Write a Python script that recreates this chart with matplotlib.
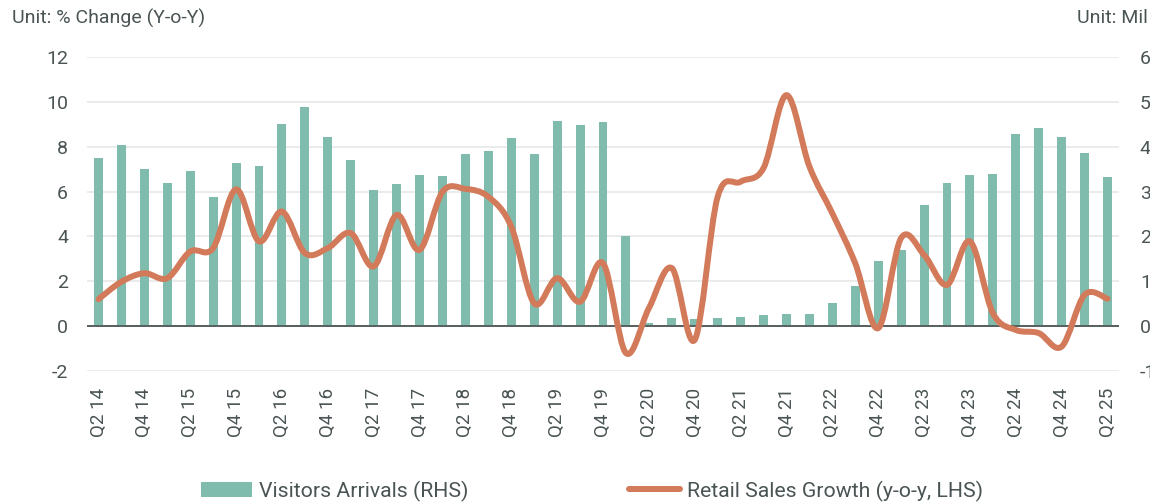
import numpy as np
import matplotlib
matplotlib.use('Agg')
from matplotlib import pyplot as plt
from matplotlib.path import Path
from matplotlib.patches import PathPatch, Patch
from matplotlib.lines import Line2D

plt.rcParams['font.family'] = ['Roboto', 'DejaVu Sans']
plt.rcParams['axes.unicode_minus'] = False

quarters = []
for yr in range(14, 26):
    for q in range(1, 5):
        quarters.append('Q%d %d' % (q, yr))
quarters = quarters[1:quarters.index('Q2 25') + 1]

# visitor arrivals, millions (RHS)
visitors = [3.75, 4.03, 3.50, 3.19, 3.45, 2.88, 3.64, 3.58, 4.50, 4.88,
            4.22, 3.70, 3.03, 3.17, 3.38, 3.35, 3.84, 3.90, 4.19, 3.83,
            4.57, 4.48, 4.54, 2.02, 0.08, 0.18, 0.16, 0.18, 0.20, 0.25,
            0.27, 0.27, 0.52, 0.90, 1.46, 1.70, 2.70, 3.20, 3.37, 3.39,
            4.28, 4.42, 4.22, 3.85, 3.32]

# retail sales growth, % y-o-y (LHS)
retail = [1.2, 1.98, 2.36, 2.14, 3.33, 3.48, 6.1, 3.78, 5.11, 3.26,
          3.48, 4.15, 2.66, 4.96, 3.4, 5.99, 6.12, 5.77, 4.44, 1.02,
          2.14, 1.09, 2.81, -1.2, 0.8, 2.59, -0.61, 5.77, 6.44, 7.05,
          10.3, 7.12, 5.03, 2.8, -0.09, 3.93, 3.18, 1.84, 3.78, 0.58,
          -0.17, -0.31, -0.91, 1.40, 1.22]

tick_labels = quarters[::2]

green = '#80bcad'
orange = '#d27a5a'
txt = '#4a5454'

fig = plt.figure(figsize=(11.5, 5.03), dpi=100)
ax = fig.add_axes([87 / 1150, 1 - 371 / 503, 1032 / 1150, 314 / 503])
ax2 = ax.twinx()

x = np.arange(len(quarters))

ax2.bar(x, visitors, width=0.39, color=green, zorder=2)
ax2.set_ylim(-1, 6)
ax2.set_yticks(range(-1, 7))
ax2.grid(axis='y', color='#e6e8e8', linewidth=1.2, zorder=0)
ax2.set_axisbelow(True)
ax2.axhline(0, color='#56605f', linewidth=1.4, zorder=3)

# smoothed line, bezier segments like a spreadsheet "smooth line"
pts = np.column_stack([x, retail]).astype(float)
verts = [pts[0]]
codes = [Path.MOVETO]
n = len(pts)
for i in range(n - 1):
    p0 = pts[max(i - 1, 0)]
    p1 = pts[i]
    p2 = pts[i + 1]
    p3 = pts[min(i + 2, n - 1)]
    c1 = p1 + (p2 - p0) / 6.0
    c2 = p2 - (p3 - p1) / 6.0
    verts += [c1, c2, p2]
    codes += [Path.CURVE4] * 3
ax.add_patch(PathPatch(Path(verts, codes), facecolor='none', edgecolor=orange,
                       linewidth=4.3, capstyle='round', joinstyle='round', zorder=4))

ax.set_xlim(-0.5, len(quarters) - 0.5)
ax.set_ylim(-2, 12)
ax.set_yticks(range(-2, 13, 2))
ax.set_xticks(x[::2])
ax.set_xticklabels(tick_labels, rotation=90)
ax.set_zorder(ax2.get_zorder() + 1)
ax.patch.set_visible(False)

for a in (ax, ax2):
    for s in a.spines.values():
        s.set_visible(False)
    a.tick_params(length=0, colors=txt, labelsize=14)
ax.tick_params(axis='y', pad=13.5)
ax2.tick_params(axis='y', pad=15)
ax.tick_params(axis='x', labelsize=13.5, pad=12)

fig.text(12 / 1150, 1 - 18 / 503, 'Unit: % Change (Y-o-Y)', color=txt,
         fontsize=14, va='center', ha='left')
fig.text(1077 / 1150, 1 - 18 / 503, 'Unit: Mil', color=txt,
         fontsize=14, va='center', ha='left')

handles = [Patch(facecolor=green, edgecolor='none'),
           Line2D([0], [0], color=orange, linewidth=4.3, solid_capstyle='round')]
fig.legend(handles, ['Visitors Arrivals (RHS)', 'Retail Sales Growth (y-o-y, LHS)'],
           loc='center', bbox_to_anchor=(592 / 1150, 1 - 491 / 503), ncol=2,
           frameon=False, fontsize=15.3, labelcolor=txt, handlelength=2.4,
           handleheight=0.7, handletextpad=0.3, columnspacing=7.6)

fig.savefig('out.png', dpi=100)
